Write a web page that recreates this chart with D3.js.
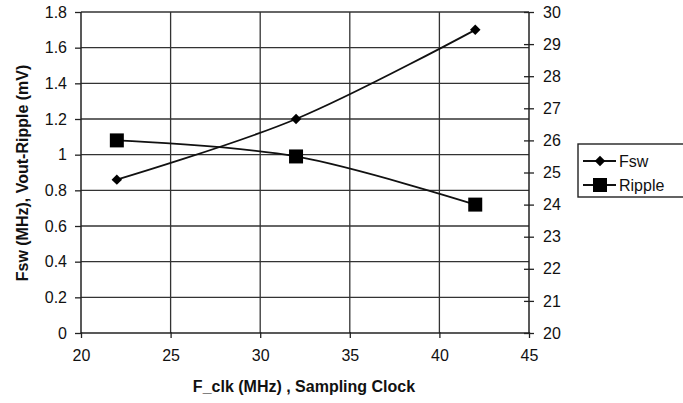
<!DOCTYPE html>
<html>
<head>
<meta charset="utf-8">
<script src="https://cdn.jsdelivr.net/npm/d3@7"></script>
<style>
  body { margin: 0; background: #fff; }
  text { font-family: "Liberation Sans", Arial, sans-serif; fill: #111; }
</style>
</head>
<body>
<div id="chart"></div>
<script>
// data
var clk = [22, 32, 42];
var fsw = [0.86, 1.2, 1.7];          // left axis
var ripple = [26, 25.5, 24];         // right axis
var xTicks = [20, 25, 30, 35, 40, 45];
var yLeftTicks = [0, 0.2, 0.4, 0.6, 0.8, 1, 1.2, 1.4, 1.6, 1.8];
var yRightTicks = [20, 21, 22, 23, 24, 25, 26, 27, 28, 29, 30];
var seriesNames = ["Fsw", "Ripple"];

var width = 683, height = 403;
var margin = {top: 12, right: 154, bottom: 70, left: 81};
var w = width - margin.left - margin.right,
    h = height - margin.top - margin.bottom;

var svg = d3.select("#chart").append("svg")
  .attr("width", width)
  .attr("height", height);

var g = svg.append("g")
  .attr("transform", `translate(${margin.left}, ${margin.top})`);

var x = d3.scaleLinear().domain([20, 45]).range([0, w]);
var yL = d3.scaleLinear().domain([0, 1.8]).range([h, 0]);
var yR = d3.scaleLinear().domain([20, 30]).range([h, 0]);

// gridlines
g.append("g").selectAll("line")
  .data(yLeftTicks.slice(1))
  .join("line")
    .attr("x1", 0).attr("x2", w)
    .attr("y1", d => yL(d)).attr("y2", d => yL(d))
    .attr("stroke", "#333").attr("stroke-width", 1.3);

g.append("g").selectAll("line")
  .data(xTicks.slice(1, -1))
  .join("line")
    .attr("x1", d => x(d)).attr("x2", d => x(d))
    .attr("y1", 0).attr("y2", h)
    .attr("stroke", "#333").attr("stroke-width", 1.3);

// axes
var axisX = g.append("g")
  .attr("transform", `translate(0, ${h})`)
  .call(d3.axisBottom(x).tickValues(xTicks).tickSize(5).tickPadding(12).tickFormat(d3.format("d")));

var axisL = g.append("g")
  .call(d3.axisLeft(yL).tickValues(yLeftTicks).tickSize(6).tickPadding(8).tickFormat(d => d3.format("")(d)));

var axisR = g.append("g")
  .attr("transform", `translate(${w}, 0)`)
  .call(d3.axisRight(yR).tickValues(yRightTicks).tickSize(5).tickPadding(9).tickFormat(d3.format("d")));

[axisX, axisL, axisR].forEach(a => {
  a.select(".domain").attr("stroke", "#222").attr("stroke-width", 1.5);
  a.selectAll(".tick line").attr("stroke", "#222").attr("stroke-width", 1.3);
  a.selectAll("text")
    .style("font-family", "Liberation Sans, Arial, sans-serif")
    .style("font-size", "16px")
    .attr("fill", "#111");
});
axisR.select(".domain").attr("d", `M0,0V${h}`);
axisX.select(".domain").attr("d", `M0,0H${w}`);
axisL.select(".domain").attr("d", `M0,0V${h}`);
// right and bottom ticks cross the axis
axisR.selectAll(".tick line").attr("x1", -5);
axisX.selectAll(".tick line").attr("y1", -1);

// lines
var lineL = d3.line()
  .x((d, i) => x(clk[i]))
  .y(d => yL(d))
  .curve(d3.curveCatmullRom.alpha(0));
var lineR = d3.line()
  .x((d, i) => x(clk[i]))
  .y(d => yR(d))
  .curve(d3.curveCatmullRom.alpha(0));

g.append("path").datum(fsw)
  .attr("d", lineL)
  .attr("fill", "none").attr("stroke", "#111").attr("stroke-width", 1.8);

g.append("path").datum(ripple)
  .attr("d", lineR)
  .attr("fill", "none").attr("stroke", "#111").attr("stroke-width", 1.8);

var diamond = d3.symbol().type(d3.symbolDiamond2).size(70);
var square = d3.symbol().type(d3.symbolSquare).size(196);

g.selectAll(".fsw")
  .data(fsw)
  .join("path")
    .attr("class", "fsw")
    .attr("d", diamond)
    .attr("transform", (d, i) => `translate(${x(clk[i])}, ${yL(d)})`)
    .attr("fill", "#000");

g.selectAll(".rip")
  .data(ripple)
  .join("path")
    .attr("class", "rip")
    .attr("d", square)
    .attr("transform", (d, i) => `translate(${x(clk[i])}, ${yR(d)})`)
    .attr("fill", "#000");

// axis titles
svg.append("text")
  .attr("x", 304)
  .attr("y", 392)
  .attr("text-anchor", "middle")
  .style("font-size", "16px")
  .style("font-weight", "bold")
  .text("F_clk (MHz) , Sampling Clock");

svg.append("text")
  .attr("transform", `translate(28, 173) rotate(-90)`)
  .attr("text-anchor", "middle")
  .style("font-size", "16px")
  .style("font-weight", "bold")
  .text("Fsw (MHz), Vout-Ripple (mV)");

// legend
var leg = svg.append("g").attr("transform", "translate(578, 144)");
leg.append("rect")
  .attr("width", 110).attr("height", 53)
  .attr("fill", "#fff").attr("stroke", "#222").attr("stroke-width", 1.4);

var legItems = leg.selectAll(".item")
  .data(seriesNames)
  .join("g")
    .attr("class", "item")
    .attr("transform", (d, i) => `translate(0, ${17 + i * 24})`);

legItems.append("line")
  .attr("x1", 5).attr("x2", 38)
  .attr("stroke", "#111").attr("stroke-width", 1.8);
legItems.append("path")
  .attr("d", (d, i) => i === 0 ? diamond() : square())
  .attr("transform", "translate(22, 0)")
  .attr("fill", "#000");
legItems.append("text")
  .attr("x", 41).attr("y", 6)
  .style("font-size", "16px")
  .text(d => d);
</script>
</body>
</html>
